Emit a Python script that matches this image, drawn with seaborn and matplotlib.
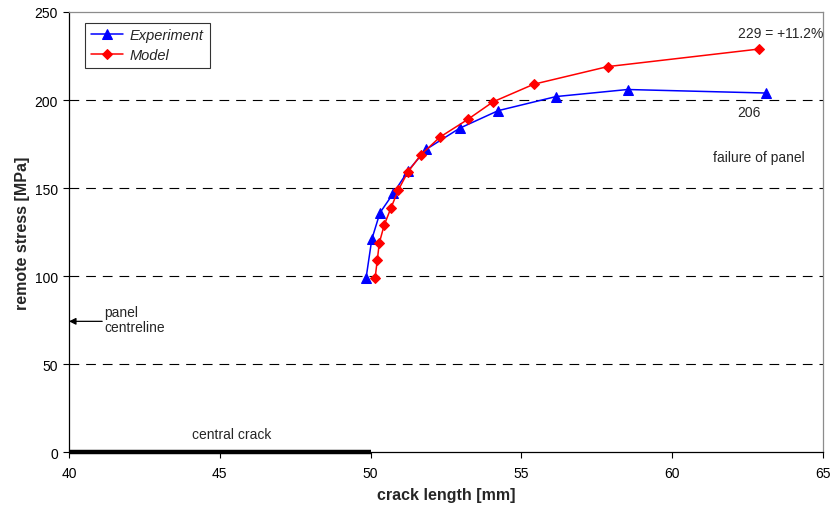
import matplotlib
matplotlib.use("Agg")
import matplotlib.pyplot as plt
import seaborn as sns
import pandas as pd

# Data
exp_x = [49.85, 50.04, 50.31, 50.75, 51.25, 51.84, 52.95, 54.23, 56.15, 58.52, 63.11]
exp_y = [99, 121, 136, 147, 160, 172, 184, 194, 202, 206, 204]
mod_x = [50.15, 50.22, 50.29, 50.45, 50.68, 50.92, 51.23, 51.67, 52.30, 53.22, 54.06, 55.41, 57.86, 62.89]
mod_y = [99, 109, 119, 129, 139, 149, 159, 169, 179, 189, 199, 209, 219, 229]
crack_x = [40, 50]
crack_y = [0, 0]
grid_levels = [50, 100, 150, 200]
x_ticks = [40, 45, 50, 55, 60, 65]
y_ticks = [0, 50, 100, 150, 200, 250]

sns.set_style("white")
plt.rcParams['font.family'] = ['Liberation Sans', 'DejaVu Sans']
plt.rcParams['lines.scale_dashes'] = False

fig = plt.figure(figsize=(8.32, 5.10), dpi=100)
ax = fig.add_axes([69/832, 1-453.4/510, (823-69)/832, (453.4-13)/510])

for lv in grid_levels:
    ax.axhline(lv, color='black', lw=0.8, linestyle=(0, (7, 5)), zorder=1)

df_exp = pd.DataFrame({"x": exp_x, "y": exp_y})
df_mod = pd.DataFrame({"x": mod_x, "y": mod_y})
sns.lineplot(data=df_exp, x="x", y="y", sort=False, estimator=None, ax=ax,
             color='#0000FF', lw=1.1, marker='^', markersize=7,
             markeredgecolor='#0000FF', label='Experiment', zorder=3)
sns.lineplot(data=df_mod, x="x", y="y", sort=False, estimator=None, ax=ax,
             color='#FF0000', lw=1.1, marker='D', markersize=5,
             markeredgecolor='#FF0000', label='Model', zorder=3)

# central crack
ax.plot(crack_x, crack_y, color='black', lw=3.2, solid_capstyle='butt', zorder=4, clip_on=False)

ax.set_xlim(40, 65)
ax.set_ylim(0, 250)
ax.set_xticks(x_ticks)
ax.set_yticks(y_ticks)
ax.tick_params(axis='both', labelsize=10, direction='out', length=4, width=0.8,
               colors='black', left=True, bottom=True)
ax.tick_params(axis='x', pad=6)
ax.tick_params(axis='y', pad=4)
ax.set_xlabel("crack length [mm]", fontsize=11.5, fontweight='bold', labelpad=5)
ax.set_ylabel("remote stress [MPa]", fontsize=11.5, fontweight='bold', labelpad=3)

for s in ['left', 'bottom']:
    ax.spines[s].set_color('black')
    ax.spines[s].set_linewidth(0.9)
for s in ['top', 'right']:
    ax.spines[s].set_color('#8c8c8c')
    ax.spines[s].set_linewidth(0.9)
    ax.spines[s].set_visible(True)

leg = ax.legend(loc='upper left', bbox_to_anchor=(0.021, 0.976), frameon=True,
                fancybox=False, edgecolor='black', prop={'style': 'italic', 'size': 10.5},
                handlelength=2.2, borderpad=0.4, labelspacing=0.4, handletextpad=0.5,
                borderaxespad=0)
leg.get_frame().set_linewidth(0.8)

ax.text(65, 238, "229 = +11.2%", fontsize=10, ha='right', va='center')
ax.text(62.15, 193, "206", fontsize=10, ha='left', va='center')
ax.text(61.35, 167.7, "failure of panel", fontsize=10, ha='left', va='center')
ax.text(41.16, 75.5, "panel\ncentreline", fontsize=10, ha='left', va='center', linespacing=1.1)
ax.annotate("", xy=(40, 74.4), xytext=(41.1, 74.4),
            arrowprops=dict(arrowstyle='-|>', color='black', lw=0.9, mutation_scale=10,
                            shrinkA=0, shrinkB=0))
ax.text(45.4, 10.5, "central crack", fontsize=10, ha='center', va='center')

fig.savefig("out.png", dpi=100)
